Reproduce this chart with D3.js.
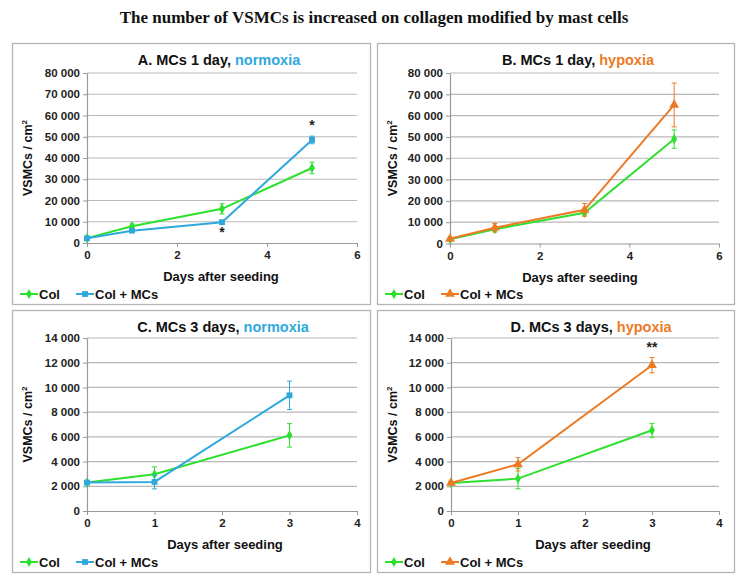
<!DOCTYPE html>
<html><head><meta charset="utf-8">
<script src="https://cdn.jsdelivr.net/npm/d3@7"></script>
<style>
body{margin:0;background:#fff;}
svg{display:block;font-family:"Liberation Sans",Arial,sans-serif;}
</style></head>
<body><svg id="c" width="747" height="584"></svg>
<script>
const mainTitle = "The number of VSMCs is increased on collagen modified by mast cells";
const panelTitles = ["A. MCs 1 day, ", "B. MCs 1 day, ", "C. MCs 3 days, ", "D. MCs 3 days, "];
const panelConds = ["normoxia", "hypoxia", "normoxia", "hypoxia"];
const daysAB = [0, 1, 3, 5];
const daysCD = [0, 1, 3];
const xTicksAB = [0, 2, 4, 6];
const xTicksCD = [0, 1, 2, 3, 4];
const yTicksAB = [0, 10000, 20000, 30000, 40000, 50000, 60000, 70000, 80000];
const yTicksCD = [0, 2000, 4000, 6000, 8000, 10000, 12000, 14000];
// Panel A
const colA = [2300, 7900, 16100, 35300];
const colAerr = [400, 1000, 2400, 2700];
const mcA = [2200, 5800, 9800, 48500];
const mcAerr = [300, 600, 500, 1800];
// Panel B
const colB = [2000, 6700, 14400, 49000];
const colBerr = [400, 800, 1000, 4300];
const mcB = [2200, 7400, 15800, 65000];
const mcBerr = [500, 2000, 3000, 10300];
// Panel C
const colC = [2300, 2970, 6120];
const colCerr = [100, 600, 950];
const mcC = [2300, 2350, 9360];
const mcCerr = [100, 560, 1150];
// Panel D
const colD = [2270, 2620, 6530];
const colDerr = [100, 820, 560];
const mcD = [2270, 3780, 11800];
const mcDerr = [100, 540, 620];
const legendLabels = ["Col", "Col + MCs"];

const GREEN = "#2de02d", BLUE = "#2fa8dc", ORANGE = "#ec7a25";
const fmt = v => d3.format(",")(v).replace(/,/g, " ");

const svg = d3.select("#c");
svg.append("text").attr("x", 374).attr("y", 23).attr("text-anchor", "middle")
  .attr("font-family", "'Liberation Serif','Times New Roman',serif").attr("font-weight", "bold")
  .attr("font-size", 17).attr("fill", "#111").text(mainTitle);

const panels = [
  {box:[12,43,358,261], x0:87, x1:357, yTop:73, yBot:243, xmax:6, xt:xTicksAB, ymax:80000, yt:yTicksAB, days:daysAB, tx:219,
   col:colA, colE:colAerr, mc:mcA, mcE:mcAerr, mcColor:BLUE, mcShape:"square", stars:[{d:3,v:-1,t:"*"},{d:5,v:1,t:"*"}]},
  {box:[377,43,357,261], x0:450, x1:719, yTop:73, yBot:243.5, xmax:6, xt:xTicksAB, ymax:80000, yt:yTicksAB, days:daysAB, tx:578,
   col:colB, colE:colBerr, mc:mcB, mcE:mcBerr, mcColor:ORANGE, mcShape:"triangle", stars:[]},
  {box:[12,310,358,262], x0:87, x1:357, yTop:338, yBot:511, xmax:4, xt:xTicksCD, ymax:14000, yt:yTicksCD, days:daysCD, tx:223,
   col:colC, colE:colCerr, mc:mcC, mcE:mcCerr, mcColor:BLUE, mcShape:"square", stars:[]},
  {box:[377,310,357,262], x0:451, x1:719, yTop:338, yBot:511, xmax:4, xt:xTicksCD, ymax:14000, yt:yTicksCD, days:daysCD, tx:591,
   col:colD, colE:colDerr, mc:mcD, mcE:mcDerr, mcColor:ORANGE, mcShape:"triangle", stars:[{d:3,v:1,t:"**"}]}
];

const diamond = d3.symbol().type(d3.symbolDiamond).size(30);
const square = d3.symbol().type(d3.symbolSquare).size(34);
const tri = d3.symbol().type(d3.symbolTriangle).size(42);

panels.forEach((p, i) => {
  const g = svg.append("g");
  const [bx, by, bw, bh] = p.box;
  g.append("rect").attr("x", bx + 0.5).attr("y", by + 0.5).attr("width", bw).attr("height", bh)
    .attr("fill", "#fff").attr("stroke", "#b4b4b4").attr("stroke-width", 1.3);
  const x = d3.scaleLinear().domain([0, p.xmax]).range([p.x0, p.x1]);
  const y = d3.scaleLinear().domain([0, p.ymax]).range([p.yBot, p.yTop]);
  const condColor = p.mcColor;
  // title
  const tt = g.append("text").attr("x", p.tx).attr("y", by + 22).attr("text-anchor", "middle")
    .attr("font-weight", "bold").attr("font-size", 14.5).attr("fill", "#111");
  tt.append("tspan").text(panelTitles[i]);
  tt.append("tspan").attr("fill", condColor).text(panelConds[i]);
  // gridlines
  g.append("g").selectAll("line").data(p.yt.filter(v => v > 0)).join("line")
    .attr("x1", p.x0).attr("x2", p.x1).attr("y1", d => y(d)).attr("y2", d => y(d))
    .attr("stroke", "#b8b8b8").attr("stroke-width", 1.2);
  // axes
  const yAxis = g.append("g").attr("transform", `translate(${p.x0},0)`)
    .call(d3.axisLeft(y).tickValues(p.yt).tickFormat(fmt).tickSize(4).tickSizeOuter(0));
  const xAxis = g.append("g").attr("transform", `translate(0,${p.yBot})`)
    .call(d3.axisBottom(x).tickValues(p.xt).tickFormat(d3.format("d")).tickSize(4).tickSizeOuter(0));
  [yAxis, xAxis].forEach(a => {
    a.select(".domain").attr("stroke", "#999").attr("stroke-width", 1.2);
    a.selectAll(".tick line").attr("stroke", "#999");
    a.selectAll("text").attr("font-family", "'Liberation Sans',Arial,sans-serif")
      .attr("font-weight", "bold").attr("font-size", 11.5).attr("fill", "#222");
  });
  yAxis.selectAll("text").attr("x", -7);
  xAxis.selectAll("text").attr("y", 8);
  // axis titles
  g.append("text").attr("x", p.tx + 2).attr("y", p.yBot + 38).attr("text-anchor", "middle")
    .attr("font-weight", "bold").attr("font-size", 13).attr("fill", "#111").text("Days after seeding");
  const yl = g.append("text").attr("transform", `translate(${bx + 20},${(p.yTop + p.yBot) / 2}) rotate(-90)`)
    .attr("text-anchor", "middle").attr("font-weight", "bold").attr("font-size", 12.5).attr("fill", "#111");
  yl.append("tspan").text("VSMCs / cm");
  yl.append("tspan").attr("font-size", 8).attr("dy", -5).text("2");

  const series = [
    {vals:p.col, err:p.colE, color:GREEN, sym:diamond},
    {vals:p.mc, err:p.mcE, color:p.mcColor, sym:p.mcShape === "square" ? square : tri}
  ];
  series.forEach(s => {
    const pts = p.days.map((d, k) => ({d, v:s.vals[k], e:s.err[k]}));
    g.append("path").datum(pts).attr("fill", "none").attr("stroke", s.color).attr("stroke-width", 2)
      .attr("d", d3.line().x(q => x(q.d)).y(q => y(q.v)));
    const eb = g.append("g").attr("stroke", s.color).attr("stroke-width", 1);
    pts.forEach(q => {
      eb.append("line").attr("x1", x(q.d)).attr("x2", x(q.d)).attr("y1", y(q.v - q.e)).attr("y2", y(q.v + q.e));
      eb.append("line").attr("x1", x(q.d) - 2.5).attr("x2", x(q.d) + 2.5).attr("y1", y(q.v - q.e)).attr("y2", y(q.v - q.e));
      eb.append("line").attr("x1", x(q.d) - 2.5).attr("x2", x(q.d) + 2.5).attr("y1", y(q.v + q.e)).attr("y2", y(q.v + q.e));
    });
    g.append("g").selectAll("path").data(pts).join("path")
      .attr("transform", q => `translate(${x(q.d)},${y(q.v)})`).attr("d", s.sym).attr("fill", s.color);
  });
  // stars
  p.stars.forEach(st => {
    const k = p.days.indexOf(st.d);
    const v = p.mc[k], e = p.mcE[k];
    const yy = st.v > 0 ? y(v + e) - 6 : y(v - e) + 14;
    g.append("text").attr("x", x(st.d)).attr("y", yy).attr("text-anchor", "middle")
      .attr("font-weight", "bold").attr("font-size", 14).attr("fill", "#222").text(st.t);
  });
  // legend
  const ly = by + bh - 10;
  const lx = bx + 8;
  const items = [{label:legendLabels[0], color:GREEN, sym:diamond, off:0},
                 {label:legendLabels[1], color:p.mcColor, sym:p.mcShape === "square" ? square : tri, off:56}];
  items.forEach(it => {
    const lg = g.append("g").attr("transform", `translate(${lx + it.off},${ly})`);
    lg.append("line").attr("x1", 0).attr("x2", 18).attr("stroke", it.color).attr("stroke-width", 2);
    lg.append("path").attr("transform", "translate(9,0)").attr("d", it.sym).attr("fill", it.color);
    lg.append("text").attr("x", 19).attr("y", 4.5).attr("font-weight", "bold").attr("font-size", 13)
      .attr("fill", "#111").text(it.label);
  });
});
</script></body></html>
